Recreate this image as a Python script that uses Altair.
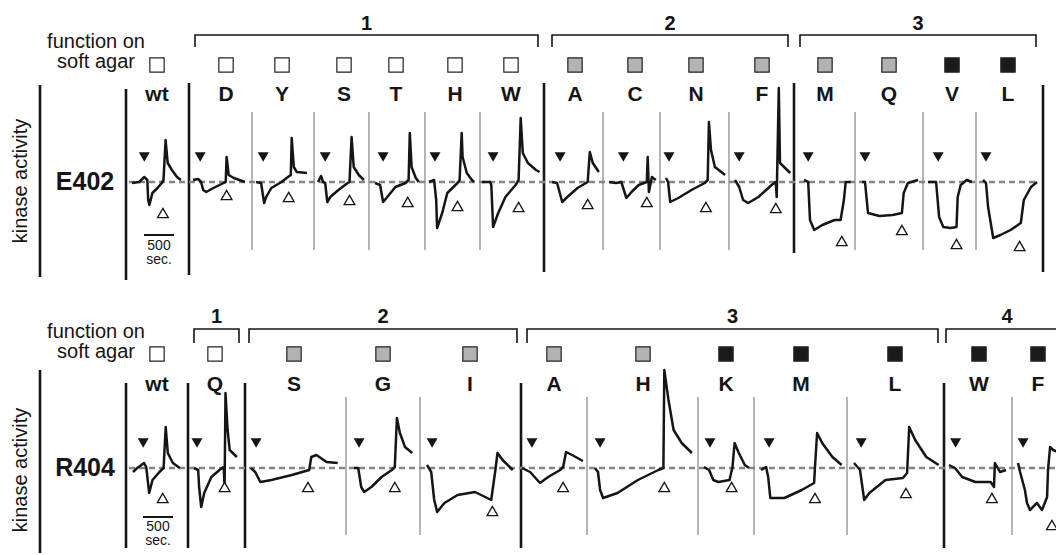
import altair as alt
import pandas as pd

# ======================= DATA =======================
# ---- E402 row ----
e_labels = ["wt", "D", "Y", "S", "T", "H", "W", "A", "C", "N", "F", "M", "Q", "V", "L"]
e_agar = ["white", "white", "white", "white", "white", "white", "white",
          "gray", "gray", "gray", "gray", "gray", "gray", "black", "black"]
e_groups = ["1", "2", "3"]
# stimulus added (filled triangle) / removed (open triangle), seconds from trace start
e_on = [205, 120, 120, 120, 135, 100, 185, 135, 240, 50, 70, 70, 50, 170, 50]
e_off = [515, 560, 545, 525, 545, 475, 610, 595, 630, 665, 680, 630, 665, 475, 610]

# kinase activity traces (time in s, activity in a.u., 0 = baseline)
e_wt_t = [0, 120, 205, 255, 270, 290, 340, 425, 495, 525, 560, 595, 665, 750, 815]
e_wt_a = [-1, 0, 5, 2, -18, -23, -11, -6, -1, 2, 42, 19, 12, 5, 2]
e_D_t = [0, 85, 135, 170, 220, 340, 510, 545, 560, 595, 680, 865]
e_D_a = [2, 3, 0, -8, -10, -6, -1, 0, 25, 7, 4, 0]
e_Y_t = [0, 85, 135, 170, 255, 425, 510, 580, 595, 630, 680, 850]
e_Y_a = [0, -1, -21, -15, -6, 0, 4, 7, 44, 15, 10, 9]
e_S_t = [0, 50, 85, 120, 155, 205, 340, 495, 525, 560, 595, 680, 765]
e_S_a = [0, 6, 0, -1, -20, -15, -8, -1, 0, 45, 15, 7, 2]
e_T_t = [0, 85, 135, 205, 340, 510, 560, 580, 610, 680, 730]
e_T_a = [-1, -3, -20, -15, -5, -1, 2, 49, 15, 4, 0]
e_H_t = [0, 85, 120, 135, 220, 305, 475, 510, 545, 560, 630, 715, 750]
e_H_a = [0, 2, -18, -46, -31, -11, -1, 2, 49, 25, 9, 2, 0]
e_W_t = [0, 135, 155, 185, 270, 390, 560, 610, 645, 680, 765, 900, 960]
e_W_a = [0, 0, -3, -45, -31, -15, -3, 2, 64, 29, 19, 12, 10]
e_A_t = [0, 85, 170, 255, 425, 595, 630, 680, 780]
e_A_a = [0, -1, -20, -15, -6, 0, 30, 19, 10]
e_C_t = [0, 120, 205, 290, 375, 495, 630, 645, 665, 715, 780]
e_C_a = [0, -1, 0, -16, -10, -3, 0, 25, -10, 5, 2]
e_N_t = [0, 35, 70, 205, 425, 645, 695, 715, 750, 815, 985]
e_N_a = [4, 0, -20, -16, -8, -1, 2, 60, 32, 15, 7]
e_F_t = [0, 70, 135, 220, 390, 610, 680, 695, 730, 750, 835, 920]
e_F_a = [2, -5, -18, -21, -15, -3, 0, -15, 94, 19, 14, 9]
e_M_t = [0, 70, 100, 170, 305, 510, 610, 665, 695, 780]
e_M_a = [2, 0, -38, -48, -43, -38, -38, -18, 0, 0]
e_Q_t = [0, 50, 100, 290, 510, 665, 695, 765, 935]
e_Q_a = [0, 0, -31, -34, -33, -31, -11, -1, 2]
e_V_t = [0, 135, 185, 255, 375, 475, 495, 545, 645, 730]
e_V_a = [0, 0, -35, -45, -46, -45, -15, -3, 2, 0]
e_L_t = [0, 50, 85, 170, 290, 460, 630, 680, 800, 900]
e_L_a = [2, -1, -25, -56, -53, -48, -41, -18, -5, 0]

# ---- R404 row ----
r_labels = ["wt", "Q", "S", "G", "I", "A", "H", "K", "M", "L", "W", "F"]
r_agar = ["white", "white", "gray", "gray", "gray", "gray", "gray",
          "black", "black", "black", "black", "black"]
r_groups = ["1", "2", "3", "4"]
r_on = [170, 50, 85, 85, 85, 165, 85, 100, 135, 120, 110, 85]
r_off = [495, 510, 950, 680, 1090, 685, 1155, 460, 900, 865, 715, 565]

r_wt_t = [0, 70, 185, 220, 270, 325, 440, 510, 545, 580, 665, 780]
r_wt_a = [-4, 0, 5, 1, -25, -12, -4, 0, 41, 15, 5, 0]
r_Q_t = [0, 70, 85, 120, 170, 290, 425, 495, 510, 525, 560, 595, 715]
r_Q_a = [0, -2, -19, -39, -25, -9, -2, 1, -19, 75, 38, 18, 11]
r_S_t = [0, 70, 155, 340, 680, 970, 1005, 1090, 1260, 1445]
r_S_a = [0, -4, -14, -12, -7, -2, 11, 13, 6, 5]
r_G_t = [0, 70, 120, 170, 290, 460, 630, 680, 715, 765, 850, 970]
r_G_a = [0, 0, -19, -24, -19, -9, -2, 1, 50, 35, 21, 15]
r_I_t = [0, 70, 120, 170, 290, 510, 800, 970, 1070, 1140, 1175, 1260, 1430]
r_I_a = [3, -4, -32, -44, -35, -27, -24, -29, -32, -2, 15, 8, -2]
r_A_t = [0, 135, 300, 435, 635, 685, 735, 835, 1015]
r_A_a = [0, -4, -15, -9, -2, 1, 16, 13, 7]
r_H_t = [0, 50, 85, 135, 375, 715, 1055, 1140, 1155, 1225, 1310, 1445, 1615]
r_H_a = [0, -4, -22, -30, -25, -12, -2, 0, 98, 68, 38, 25, 15]
r_K_t = [0, 85, 155, 240, 425, 475, 510, 580, 680, 750]
r_K_a = [1, -2, -12, -14, -12, 1, 25, 15, 3, 0]
r_M_t = [0, 85, 120, 155, 390, 680, 885, 900, 935, 1020, 1190, 1345]
r_M_a = [-2, 1, -9, -30, -30, -22, -15, 1, 35, 25, 11, 3]
r_L_t = [0, 100, 170, 255, 525, 815, 885, 920, 1020, 1205, 1410]
r_L_a = [5, -2, -32, -25, -12, -10, -5, 41, 28, 11, 3]
r_W_t = [0, 100, 220, 440, 695, 750, 765, 850, 950]
r_W_a = [3, 0, -9, -14, -14, -19, 5, -4, -2]
r_F_t = [0, 35, 115, 150, 200, 315, 400, 485, 500, 535, 585, 665]
r_F_a = [5, -4, -22, -35, -42, -35, -42, -29, -2, 21, 18, 16]

e_traces = [(e_wt_t, e_wt_a), (e_D_t, e_D_a), (e_Y_t, e_Y_a), (e_S_t, e_S_a), (e_T_t, e_T_a),
            (e_H_t, e_H_a), (e_W_t, e_W_a), (e_A_t, e_A_a), (e_C_t, e_C_a), (e_N_t, e_N_a),
            (e_F_t, e_F_a), (e_M_t, e_M_a), (e_Q_t, e_Q_a), (e_V_t, e_V_a), (e_L_t, e_L_a)]
r_traces = [(r_wt_t, r_wt_a), (r_Q_t, r_Q_a), (r_S_t, r_S_a), (r_G_t, r_G_a), (r_I_t, r_I_a),
            (r_A_t, r_A_a), (r_H_t, r_H_a), (r_K_t, r_K_a), (r_M_t, r_M_a), (r_L_t, r_L_a),
            (r_W_t, r_W_a), (r_F_t, r_F_a)]

SCALE_BAR_SEC = 500

# ======================= LAYOUT / STYLE =======================
SEC_PER_UNIT = 500 / 30      # seconds per horizontal layout unit
AU_PER_UNIT = 1.0
FONT = "Liberation Sans"
INK = "#151515"
FILL = {"white": "#ffffff", "gray": "#b3b3b3", "black": "#1a1a1a"}

ROWS = [
    dict(name="E402", labels=e_labels, agar=e_agar, on=e_on, off=e_off, traces=e_traces, groups=e_groups,
         base=182,
         x0=[132, 193, 256, 318, 375, 429, 482, 552, 609, 666, 735, 804, 862, 928, 983],
         lab_x=[157, 226, 282, 344, 396, 455, 511, 575, 635, 696, 762, 825, 889, 952, 1008],
         open_y=[213, 195, 197, 200, 202, 206, 207, 204, 202, 207, 208, 241, 230, 244, 246],
         sq_y=65, lab_y=95, br_y=35, br_tick=47, grp_y=24,
         brackets=[(195, 538), (552, 788), (800, 1036)],
         black=[(126, 89, 280), (189, 83, 275), (544, 83, 272), (794, 83, 253), (1043, 85, 272)],
         gray=[252, 314, 369, 425, 480, 603, 660, 729, 855, 923, 976], gray_y=(112, 250),
         axis=(40, 85, 277), dash=(129, 1038), agar_y=(42, 62), kin_y=181,
         bar=(144, 235), bar_txt=(246, 260)),
    dict(name="R404", labels=r_labels, agar=r_agar, on=r_on, off=r_off, traces=r_traces, groups=r_groups,
         base=468,
         x0=[133, 194, 251, 354, 427, 522, 595, 704, 761, 854, 949, 1018],
         lab_x=[157, 215, 294, 383, 470, 554, 643, 726, 801, 895, 979, 1038],
         open_y=[498, 487, 487, 487, 511, 487, 487, 487, 498, 493, 498, 525],
         sq_y=354, lab_y=385, br_y=329, br_tick=343, grp_y=317,
         brackets=[(194, 239), (249, 517), (527, 938), (946, 1075)],
         black=[(126, 383, 548), (188, 383, 548), (245, 383, 548), (521, 383, 548), (944, 383, 548)],
         gray=[346, 420, 587, 698, 754, 847, 1012], gray_y=(397, 535),
         axis=(40, 370, 553), dash=(129, 1056), agar_y=(332, 352), kin_y=470,
         bar=(143, 517), bar_txt=(527, 541)),
]

tr, rules, dashes, brs, squares, bold, norm, rot, on_pts, off_pts, bars = ([] for _ in range(11))
for row in ROWS:
    nm, base = row["name"], row["base"]
    for i, lab in enumerate(row["labels"]):
        ts, acts = row["traces"][i]
        x0 = row["x0"][i]
        for t, a in zip(ts, acts):
            tr.append(dict(trace=f"{nm}-{lab}", t=t, x=x0 + t / SEC_PER_UNIT, y=base - a / AU_PER_UNIT))
        on_pts.append(dict(x=x0 + row["on"][i] / SEC_PER_UNIT, y=base - 25))
        off_pts.append(dict(x=x0 + row["off"][i] / SEC_PER_UNIT, y=row["open_y"][i]))
        squares.append(dict(x=row["lab_x"][i], y=row["sq_y"], f=FILL[row["agar"][i]]))
        bold.append(dict(x=row["lab_x"][i], y=row["lab_y"], text=lab, fs=21))
    for gname, (bx1, bx2) in zip(row["groups"], row["brackets"]):
        key = f"{nm}-{gname}"
        for k, (px, py) in enumerate([(bx1, row["br_tick"]), (bx1, row["br_y"]),
                                       (bx2, row["br_y"]), (bx2, row["br_tick"])]):
            brs.append(dict(b=key, i=k, x=px, y=py))
        gx = (bx1 + bx2) / 2 if bx2 <= 1056 else (bx1 + 1068) / 2
        bold.append(dict(x=gx, y=row["grp_y"], text=gname, fs=20))
    for bx, y1, y2 in row["black"]:
        rules.append(dict(x=bx, y=y1, y2=y2, c=INK, w=2.6))
    for gx in row["gray"]:
        rules.append(dict(x=gx, y=row["gray_y"][0], y2=row["gray_y"][1], c="#a3a3a3", w=1.6))
    ax, ay1, ay2 = row["axis"]
    rules.append(dict(x=ax, y=ay1, y2=ay2, c=INK, w=2.6))
    dashes.append(dict(x=row["dash"][0], x2=row["dash"][1], y=base))
    bold.append(dict(x=85, y=base, text=nm, fs=25))
    norm.append(dict(x=96, y=row["agar_y"][0], text="function on", fs=20))
    norm.append(dict(x=96, y=row["agar_y"][1], text="soft agar", fs=20))
    rot.append(dict(x=21, y=row["kin_y"], text="kinase activity"))
    bx, by = row["bar"]
    bars.append(dict(x=bx, x2=bx + SCALE_BAR_SEC / SEC_PER_UNIT, y=by))
    norm.append(dict(x=bx + SCALE_BAR_SEC / SEC_PER_UNIT / 2, y=row["bar_txt"][0], text=str(SCALE_BAR_SEC), fs=14))
    norm.append(dict(x=bx + SCALE_BAR_SEC / SEC_PER_UNIT / 2, y=row["bar_txt"][1], text="sec.", fs=14))

XS = alt.Scale(domain=[0, 1056], nice=False, zero=False)
YS = alt.Scale(domain=[0, 555], reverse=True, nice=False, zero=False)


def X(f="x"):
    return alt.X(f"{f}:Q", scale=XS, axis=None)


def Y(f="y"):
    return alt.Y(f"{f}:Q", scale=YS, axis=None)


rule_layer = alt.Chart(pd.DataFrame(rules)).mark_rule().encode(
    x=X(), y=Y(), y2=alt.Y2("y2:Q"),
    color=alt.Color("c:N", scale=None), strokeWidth=alt.StrokeWidth("w:Q", scale=None))
dash_layer = alt.Chart(pd.DataFrame(dashes)).mark_rule(
    color="#858585", strokeWidth=2.4, strokeDash=[6, 4]).encode(x=X(), x2=alt.X2("x2:Q"), y=Y())
trace_layer = alt.Chart(pd.DataFrame(tr)).mark_line(
    color=INK, strokeWidth=2.5, clip=True, strokeJoin="round").encode(
    x=X(), y=Y(), detail="trace:N", order="t:Q")
bracket_layer = alt.Chart(pd.DataFrame(brs)).mark_line(
    color=INK, strokeWidth=1.6, clip=True).encode(x=X(), y=Y(), detail="b:N", order="i:Q")
bar_layer = alt.Chart(pd.DataFrame(bars)).mark_rule(color=INK, strokeWidth=2).encode(
    x=X(), x2=alt.X2("x2:Q"), y=Y())
square_layer = alt.Chart(pd.DataFrame(squares)).mark_point(
    shape="square", filled=True, size=205, stroke="#222222", strokeWidth=1.2, opacity=1).encode(
    x=X(), y=Y(), fill=alt.Fill("f:N", scale=None))
on_layer = alt.Chart(pd.DataFrame(on_pts)).mark_point(
    shape="triangle-down", filled=True, size=120, color=INK, opacity=1).encode(x=X(), y=Y())
off_layer = alt.Chart(pd.DataFrame(off_pts)).mark_point(
    shape="triangle-up", filled=True, fill="white", stroke=INK, strokeWidth=1.3, size=115, opacity=1).encode(
    x=X(), y=Y())
bold_layer = alt.Chart(pd.DataFrame(bold)).mark_text(
    font=FONT, fontWeight="bold", align="center", baseline="middle", color=INK).encode(
    x=X(), y=Y(), text="text:N", size=alt.Size("fs:Q", scale=None))
norm_layer = alt.Chart(pd.DataFrame(norm)).mark_text(
    font=FONT, align="center", baseline="middle", color=INK).encode(
    x=X(), y=Y(), text="text:N", size=alt.Size("fs:Q", scale=None))
rot_layer = alt.Chart(pd.DataFrame(rot)).mark_text(
    font=FONT, align="center", baseline="middle", color=INK, angle=270, fontSize=20).encode(
    x=X(), y=Y(), text="text:N")

chart = alt.layer(
    rule_layer, dash_layer, trace_layer, bracket_layer, bar_layer,
    square_layer, on_layer, off_layer, bold_layer, norm_layer, rot_layer
).properties(
    width=1056, height=555, padding=0, autosize=alt.AutoSizeParams(type="none"),
    background="white"
).configure_view(stroke=None)

chart.save("out.html", embed_options={"renderer": "svg", "actions": False})
